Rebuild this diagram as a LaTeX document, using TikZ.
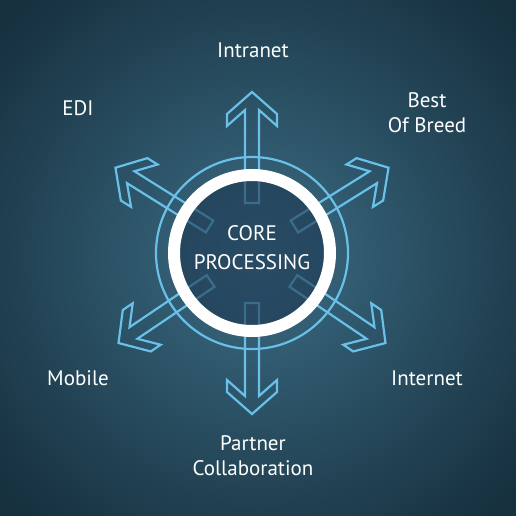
\documentclass[tikz,border=0pt]{standalone}
\usepackage{fontspec}
\setmainfont{PT Sans}
\usepackage{tikz}
\usetikzlibrary{positioning}
\definecolor{bgmid}{RGB}{60,108,132}
\definecolor{bgedge}{RGB}{22,48,62}
\definecolor{arrowblue}{RGB}{105,192,232}
\definecolor{hubfill}{RGB}{28,55,80}
\tikzset{
  lbl/.style={text=white, font=\fontsize{21}{25}\selectfont, align=center},
  outline/.style={draw=arrowblue, line width=2.2pt, line join=miter},
}

\begin{document}
\begin{tikzpicture}[x=1pt,y=1pt]
    \useasboundingbox (-252,-262) rectangle (264,253);
    \clip (-252,-262) rectangle (264,253);
    \shade[inner color=bgmid, outer color=bgedge] (-340,-350) rectangle (352,341);
    \draw[outline] (0,0) circle (96); % thin outer ring
    \foreach \a in {32,90,148,214,270,326}
        \draw[outline, rotate=\a] (50,-7) -- (143,-7) -- (127,-25) -- (139,-25) -- (161,0)
            -- (139,25) -- (127,25) -- (143,7) -- (50,7) -- cycle;
    \fill[hubfill, opacity=0.6] (0,0) circle (78); % dims the shafts
    \node[circle, draw=white, line width=12pt, minimum size=156pt, inner sep=0pt] (core) at (0,0) {};
    \node[lbl, font=\fontsize{21}{29}\selectfont] (coretext) at (0,5) {CORE\\PROCESSING};
    \node[lbl] (intranet) at (1,203) {Intranet};
    \node[lbl] (edi) at (-174,145) {EDI};
    \node[lbl] (breed) at (175,140) {Best\\Of Breed};
    \node[lbl] (mobile) at (-174,-125) {Mobile};
    \node[lbl] (internet) at (175,-125) {Internet};
    \node[lbl] (partner) at (1,-203) {Partner\\Collaboration};
\end{tikzpicture}
\end{document}
